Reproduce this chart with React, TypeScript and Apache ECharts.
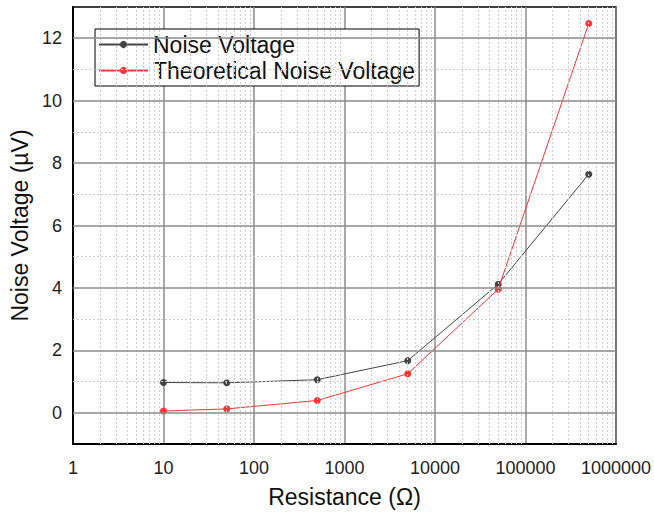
import React, { useEffect, useRef } from "react";
import * as echarts from "echarts";

const resistance = [10, 50, 500, 5000, 50000, 500000];
const noiseVoltage = [0.97, 0.96, 1.06, 1.67, 4.12, 7.64];
const theoreticalVoltage = [0.056, 0.125, 0.394, 1.25, 3.96, 12.47];
const seriesNames = ["Noise Voltage", "Theoretical Noise Voltage"];
const yMajor = [0, 2, 4, 6, 8, 10, 12];
const yMinor = [1, 3, 5, 7, 9, 11];
const decades = [1, 10, 100, 1000, 10000, 100000];
const subSteps = [2, 3, 4, 5, 6, 7, 8, 9];

const FONT = "Liberation Sans, Arial, sans-serif";

export default function App() {
  const ref = useRef<HTMLDivElement>(null);
  useEffect(() => {
    document.body.style.margin = "0";
    const chart = echarts.init(ref.current!, null, { renderer: "svg" });
    const xMinor: number[] = [];
    decades.forEach((d) => subSteps.forEach((s) => xMinor.push(d * s)));
    chart.setOption({
      animation: false,
      backgroundColor: "#fff",
      textStyle: { fontFamily: FONT },
      grid: {
        left: 73,
        top: 7,
        right: 37,
        bottom: 70,
        show: true,
        borderColor: "#000",
        borderWidth: 1.5,
        backgroundColor: "#fff",
      },
      legend: {
        data: seriesNames,
        orient: "vertical",
        left: 95,
        top: 29,
        backgroundColor: "#fff",
        borderColor: "#000",
        borderWidth: 1,
        borderRadius: 0,
        padding: [3, 4, 3, 3],
        itemGap: 1,
        itemWidth: 49,
        itemHeight: 9,
        selectedMode: false,
        textStyle: { fontSize: 23, color: "#111", fontFamily: FONT, lineHeight: 25 },
      },
      xAxis: {
        type: "log",
        logBase: 10,
        min: 1,
        max: 1000000,
        name: "Resistance (Ω)",
        nameLocation: "middle",
        nameGap: 41,
        nameTextStyle: { fontSize: 23, color: "#111", fontFamily: FONT },
        axisLine: { show: true, onZero: false, lineStyle: { color: "#000", width: 2 } },
        axisTick: { show: false },
        axisLabel: { fontSize: 18, color: "#222", margin: 15, fontFamily: FONT, formatter: (v: number) => String(Math.round(v)) },
        splitLine: { show: true, lineStyle: { color: "#8c8c8c", width: 1.5 } },
        minorSplitLine: { show: false },
      },
      yAxis: {
        type: "value",
        min: -1,
        max: 13,
        interval: 1,
        name: "Noise Voltage (µV)",
        nameLocation: "middle",
        nameGap: 33,
        nameTextStyle: { fontSize: 23, color: "#111", fontFamily: FONT },
        axisLine: { show: true, onZero: false, lineStyle: { color: "#000", width: 2 } },
        axisTick: { show: false },
        axisLabel: {
          fontSize: 18,
          color: "#222",
          margin: 11,
          fontFamily: FONT,
          formatter: (v: number) => (yMajor.indexOf(v) >= 0 ? String(v) : ""),
        },
        splitLine: { show: false },
      },
      series: [
        {
          name: "grid",
          type: "line",
          data: [[1, -1]],
          symbol: "none",
          lineStyle: { opacity: 0 },
          silent: true,
          z: 1,
          markLine: {
            silent: true,
            symbol: "none",
            label: { show: false },
            animation: false,
            data: [
              ...xMinor.map((v) => ({ xAxis: v, lineStyle: { color: "#cfcfcf", width: 1, type: [2, 2] } })),
              ...yMinor.map((v) => ({ yAxis: v, lineStyle: { color: "#cfcfcf", width: 1, type: [2, 2] } })),
              ...yMajor.map((v) => ({ yAxis: v, lineStyle: { color: "#8c8c8c", width: 1.5, type: "solid" } })),
            ],
          },
        },
        {
          name: seriesNames[0],
          type: "line",
          data: resistance.map((r, i) => [r, noiseVoltage[i]]),
          symbol: "circle",
          symbolSize: 7,
          z: 3,
          itemStyle: { color: "#444444" },
          lineStyle: { color: "#444444", width: 1 },
        },
        {
          name: seriesNames[1],
          type: "line",
          data: resistance.map((r, i) => [r, theoreticalVoltage[i]]),
          symbol: "circle",
          symbolSize: 7,
          z: 4,
          itemStyle: { color: "#ff3333" },
          lineStyle: { color: "#ff3333", width: 1 },
        },
      ],
    });
    return () => chart.dispose();
  }, []);
  return <div ref={ref} style={{ width: 654, height: 514 }} />;
}
